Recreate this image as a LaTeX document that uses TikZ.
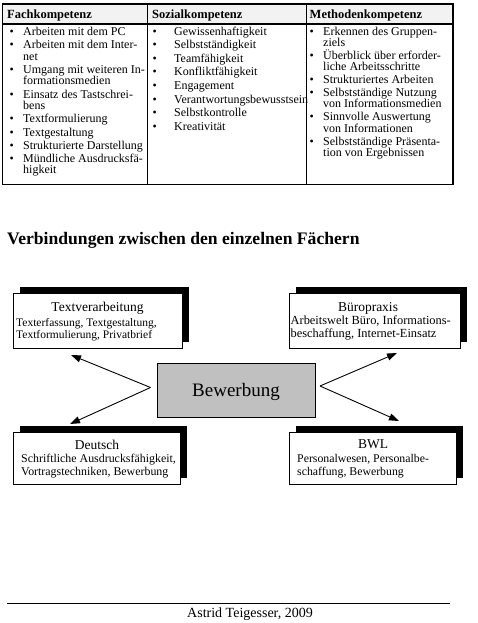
\documentclass[tikz,border=0pt]{standalone}
\usepackage{fontspec}
\setmainfont{Liberation Serif}
\usetikzlibrary{arrows.meta,shadows}
\definecolor{boxgrey}{HTML}{C0C0C0}
\definecolor{headgrey}{HTML}{F2F2F2}
\begin{document}
\begin{tikzpicture}[x=1pt,y=-1pt,
  cell/.style={anchor=base west, inner sep=0pt, font=\fontsize{12}{13}\selectfont},
  head/.style={anchor=base west, inner sep=0pt, font=\bfseries\fontsize{12.5}{14}\selectfont},
  subj/.style={draw=black, line width=0.8pt, fill=white, inner sep=0pt,
    drop shadow={shadow xshift=6.5pt, shadow yshift=6.5pt, fill=black, opacity=1}},
  subjtitle/.style={anchor=base, inner sep=0pt, font=\fontsize{13.5}{15}\selectfont},
  subjline/.style={anchor=base west, inner sep=0pt, font=\fontsize{#1}{13}\selectfont},
  subjline/.default=11.8,
  link/.style={line width=0.9pt, -{Triangle[length=10pt,width=7pt]}},
  grid/.style={line width=1.2pt},
]
\useasboundingbox (0,0) rectangle (478,623);
% ---------- table ----------
\fill[headgrey] (2.5,4) rectangle (453,24);
\draw[line width=1.8pt] (2.5,4) rectangle (453,184.5);
\draw[grid] (2.5,24) -- (453,24);
\draw[grid] (147.5,4) -- (147.5,184.5);
\draw[grid] (306.5,4) -- (306.5,184.5);
\node[head] (h1) at (7,19) {Fachkompetenz};
\node[head] (h2) at (152,19) {Sozialkompetenz};
\node[head] (h3) at (309.5,19) {Methodenkompetenz};
% column 1
\foreach \y/\t [count=\i] in {35.5/Arbeiten mit dem PC, 48.7/Arbeiten mit dem Inter-, 60.2/net,
  73.4/Umgang mit weiteren In-, 84.9/formationsmedien, 98.1/Einsatz des Tastschrei-, 109.6/bens,
  122.8/Textformulierung, 136/Textgestaltung, 149.2/Strukturierte Darstellung,
  162.4/Mündliche Ausdrucksfä-, 173.9/higkeit}
  \node[cell] (c1l\i) at (23,\y) {\t};
\foreach \y [count=\i] in {35.5,48.7,73.4,98.1,122.8,136,149.2,162.4}
  \node[cell] (c1b\i) at (9.5,\y) {\textbullet};
% column 2
\foreach \y/\t [count=\i] in {35.5/Gewissenhaftigkeit, 49/Selbstständigkeit, 62.5/Teamfähigkeit,
  76/Konfliktfähigkeit, 89.5/Engagement, 103/Verantwortungsbewusstsein,
  116.5/Selbstkontrolle, 130/Kreativität}
  {\node[cell] (c2l\i) at (174,\y) {\t};
   \node[cell] (c2b\i) at (152.5,\y) {\textbullet};}
% column 3
\foreach \y/\t [count=\i] in {35.5/Erkennen des Gruppen-, 46.8/ziels, 59.5/Überblick über erforder-,
  70.8/liche Arbeitsschritte, 84/Strukturiertes Arbeiten, 96.5/Selbstständige Nutzung,
  107.8/von Informationsmedien, 121/Sinnvolle Auswertung, 132.3/von Informationen,
  145.5/Selbstständige Präsenta-, 156.8/tion von Ergebnissen}
  \node[cell] (c3l\i) at (323,\y) {\t};
\foreach \y [count=\i] in {35.5,59.5,84,96.5,121,145.5}
  \node[cell] (c3b\i) at (309.5,\y) {\textbullet};
% ---------- heading ----------
\node[anchor=base west, inner sep=0pt, font=\bfseries\fontsize{17.6}{20}\selectfont] (title) at (7,244)
  {Verbindungen zwischen den einzelnen Fächern};
% ---------- subject boxes ----------
\node[subj, minimum width=169pt, minimum height=55pt] (tv) at (97.5,320.5) {};
\node[subjtitle] (tvt) at (97.5,311) {Textverarbeitung};
\node[subjline=11.5] (tv1) at (16,326) {Texterfassung, Textgestaltung,};
\node[subjline=11.5] (tv2) at (16,338) {Textformulierung, Privatbrief};

\node[subj, minimum width=171pt, minimum height=55pt] (bp) at (374.5,320.5) {};
\node[subjtitle] (bpt) at (368,311) {Büropraxis};
\node[subjline=12.4] (bp1) at (290.5,324) {Arbeitswelt Büro, Informations-};
\node[subjline=12.4] (bp2) at (290.5,337) {beschaffung, Internet-Einsatz};

\node[subj, minimum width=167pt, minimum height=52pt] (de) at (96.5,458) {};
\node[subjtitle] (det) at (97,449) {Deutsch};
\node[subjline=11.9] (de1) at (21,462.5) {Schriftliche Ausdrucksfähigkeit,};
\node[subjline=11.9] (de2) at (21,475) {Vortragstechniken, Bewerbung};

\node[subj, minimum width=167pt, minimum height=52pt] (bwl) at (372.5,458) {};
\node[subjtitle] (bwlt) at (373,448.5) {BWL};
\node[subjline=11.8] (bwl1) at (297,462.5) {Personalwesen, Personalbe-};
\node[subjline=11.8] (bwl2) at (297,475) {schaffung, Bewerbung};
% ---------- centre ----------
\node[draw=black, line width=0.8pt, fill=boxgrey, minimum width=158pt, minimum height=54pt,
  inner sep=0pt] (bew) at (236,390) {};
\node[anchor=base, inner sep=0pt, font=\fontsize{19}{21}\selectfont] (bewt) at (236,396.5) {Bewerbung};
% ---------- connectors ----------
\coordinate (ls) at (150.5,387.5);
\coordinate (rs) at (320,386);
\coordinate (tvtip) at (71,355);
\coordinate (bptip) at (397,353);
\coordinate (detip) at (70,424);
\coordinate (bwltip) at (399,421);
\draw[link] (ls) -- (tvtip);
\draw[link] (ls) -- (detip);
\draw[link] (rs) -- (bptip);
\draw[link] (rs) -- (bwltip);
% ---------- footer ----------
\draw[line width=0.8pt] (7,603) -- (450,603);
\node[anchor=base, inner sep=0pt, font=\fontsize{14}{16}\selectfont] (foot) at (250,617) {Astrid Teigesser, 2009};
\end{tikzpicture}
\end{document}
